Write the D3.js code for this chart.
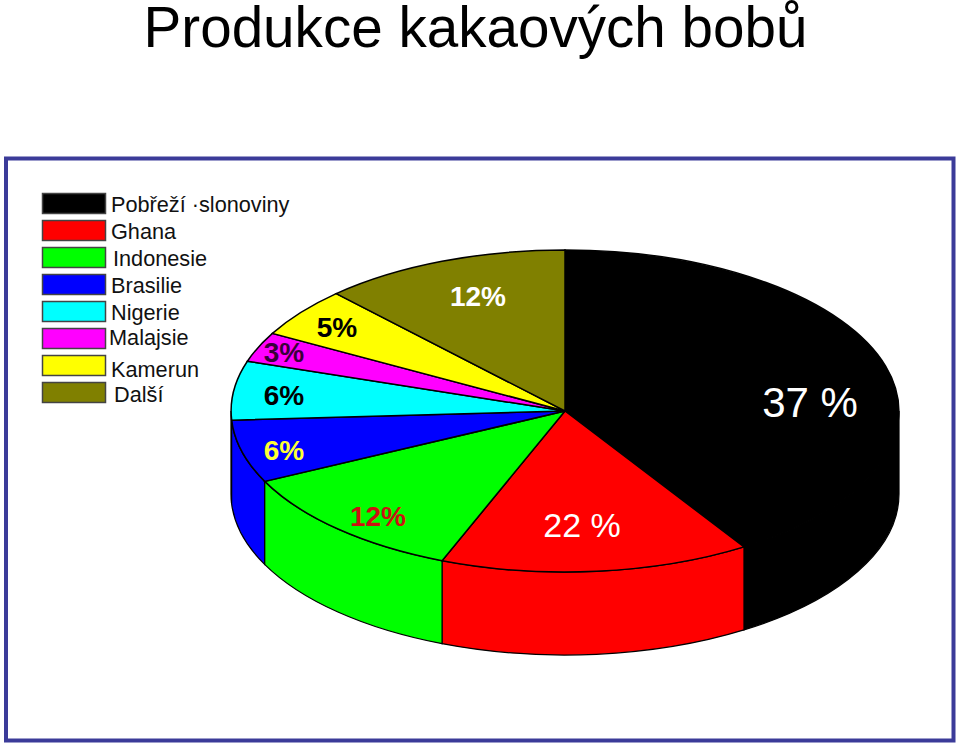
<!DOCTYPE html>
<html lang="cs">
<head>
<meta charset="utf-8">
<title>Produkce kakaových bobů</title>
<script src="https://d3js.org/d3.v7.min.js"></script>
<style>
  html, body { margin: 0; padding: 0; background: #fff; }
  svg { display: block; }
  text { font-family: "Liberation Sans", Arial, sans-serif; }
</style>
</head>
<body>
<div id="chart"></div>
<script>
// data
const categories = ["Pobřeží ·slonoviny", "Ghana", "Indonesie", "Brasilie", "Nigerie", "Malajsie", "Kamerun", "Další"];
// slice sizes as they are drawn in the picture (the printed labels differ for the first two)
const drawnShare = [41, 15, 11.8, 6.3, 5.9, 3, 5, 12];
const sliceLabels = ["37 %", "22 %", "12%", "6%", "6%", "3%", "5%", "12%"];
const sliceColors = ["#000000", "#ff0000", "#00ff00", "#0000ff", "#00ffff", "#ff00ff", "#ffff00", "#808000"];

// label placement and look
const labelColors = ["#ffffff", "#ffffff", "#cc1111", "#ffff33", "#000000", "#3a003a", "#000000", "#ffffff"];
const labelX = [810, 582, 378, 284, 284, 284, 337, 478];
const labelY = [417, 537, 526, 460, 405, 362, 337, 306];
const labelSize = [42, 34, 28, 28, 28, 28, 28, 28];
const labelWeight = ["normal", "normal", "bold", "bold", "bold", "bold", "bold", "bold"];
const legendTextX = [111, 111, 113, 111, 111, 109, 111, 114];
const legendNudge = [0, 0, 0, 0, 0, -2, 3, 1];

const width = 960, height = 745;
const cx = 565, cy = 411, rx = 334, ry = 161, depth = 83;

const svg = d3.select("#chart").append("svg")
  .attr("width", width)
  .attr("height", height);

// title
svg.append("text")
  .attr("x", 475.5)
  .attr("y", 47)
  .attr("text-anchor", "middle")
  .attr("font-size", 56.6)
  .attr("fill", "#000")
  .text("Produkce kakaových bobů");

// frame
svg.append("rect")
  .attr("x", 6)
  .attr("y", 158.5)
  .attr("width", 947.5)
  .attr("height", 582)
  .attr("fill", "#fff")
  .attr("stroke", "#3b3b99")
  .attr("stroke-width", 4);

// legend
const legendY = d3.scaleBand()
  .domain(categories)
  .range([190, 406])
  .paddingInner(0.26)
  .paddingOuter(0.13);

const legend = svg.append("g");
legend.selectAll("rect")
  .data(categories)
  .enter()
  .append("rect")
    .attr("x", 42.5)
    .attr("y", d => legendY(d))
    .attr("width", 63)
    .attr("height", legendY.bandwidth())
    .attr("fill", (d, i) => sliceColors[i])
    .attr("stroke", "#444")
    .attr("stroke-width", 1.5);

legend.selectAll("text")
  .data(categories)
  .enter()
  .append("text")
    .attr("x", (d, i) => legendTextX[i])
    .attr("y", (d, i) => legendY(d) + legendY.bandwidth() - 1 + legendNudge[i])
    .attr("font-size", 21.7)
    .attr("fill", "#111")
    .text(d => d);

// pie layout, angles run clockwise from 12 o'clock
const pie = d3.pie().sort(null).value(d => d).startAngle(0).endAngle(2 * Math.PI);
const slices = pie(drawnShare);

function pt(a, dy) {
  return [cx + rx * Math.sin(a), cy - ry * Math.cos(a) + dy];
}

// side wall of a slice, only the part on the front half of the ellipse
function wallPath(d) {
  const a0 = Math.max(d.startAngle, Math.PI / 2);
  const a1 = Math.min(d.endAngle, 3 * Math.PI / 2);
  if (a1 <= a0) return null;
  const s0 = pt(a0, 0), s1 = pt(a1, 0), b1 = pt(a1, depth), b0 = pt(a0, depth);
  return "M" + s0 + "A" + rx + "," + ry + " 0 0 1 " + s1 +
         "L" + b1 + "A" + rx + "," + ry + " 0 0 0 " + b0 + "Z";
}

const walls = slices.filter(d => wallPath(d) !== null);

svg.append("g").selectAll("path")
  .data(walls)
  .enter()
  .append("path")
    .attr("d", wallPath)
    .attr("fill", d => sliceColors[d.index])
    .attr("stroke", "#000")
    .attr("stroke-width", 1.2);

// top face is a unit pie squashed into the ellipse
const arc = d3.arc().innerRadius(0).outerRadius(1);

svg.append("g")
  .attr("transform", "translate(" + cx + "," + cy + ") scale(" + rx + "," + ry + ")")
  .selectAll("path")
  .data(slices)
  .enter()
  .append("path")
    .attr("d", arc)
    .attr("fill", d => sliceColors[d.index])
    .attr("stroke", "#000")
    .attr("stroke-width", 1.5)
    .attr("vector-effect", "non-scaling-stroke");

// labels
svg.append("g").selectAll("text")
  .data(sliceLabels)
  .enter()
  .append("text")
    .attr("x", (d, i) => labelX[i])
    .attr("y", (d, i) => labelY[i])
    .attr("text-anchor", "middle")
    .attr("font-size", (d, i) => labelSize[i])
    .attr("font-weight", (d, i) => labelWeight[i])
    .attr("fill", (d, i) => labelColors[i])
    .text(d => d);
</script>
</body>
</html>
